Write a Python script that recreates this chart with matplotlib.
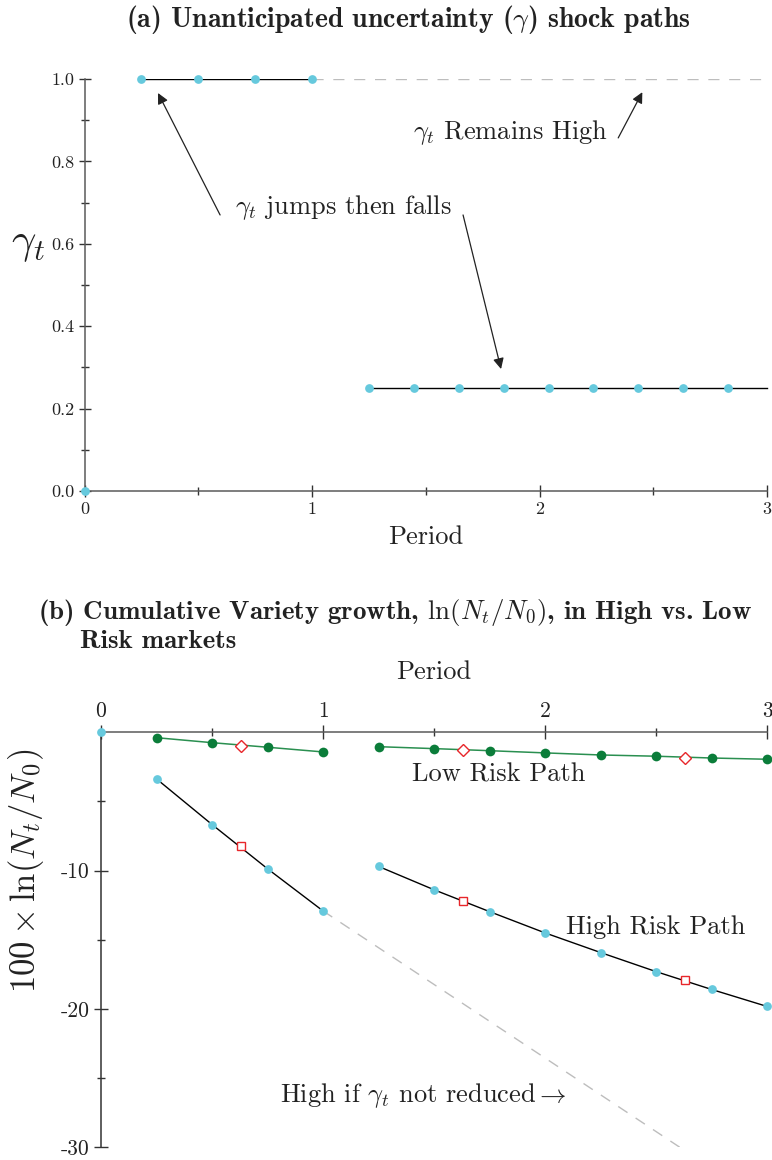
import matplotlib
matplotlib.use("Agg")
import matplotlib.pyplot as plt
from matplotlib.ticker import FixedLocator

plt.rcParams['font.family'] = ['cmr10', 'DejaVu Serif']
plt.rcParams['mathtext.fontset'] = 'cm'
plt.rcParams['axes.unicode_minus'] = False
plt.rcParams['axes.formatter.use_mathtext'] = False

# ---------------- data: panel (a) ----------------
gamma_x_high = [0.25, 0.5, 0.75, 1.0]
gamma_y_high = [1.0, 1.0, 1.0, 1.0]
gamma_x_low = [1.25, 1.447, 1.645, 1.842, 2.04, 2.237, 2.434, 2.632, 2.83]
gamma_y_low = [0.25] * 9
gamma_low_line_x = [1.25, 3.0]
gamma_low_line_y = [0.25, 0.25]
gamma_remain_x = [1.0, 3.0]
gamma_remain_y = [1.0, 1.0]
origin_x = [0.0]
origin_y = [0.0]

# ---------------- data: panel (b) ----------------
low1_x = [0.25, 0.5, 0.75, 1.0]
low1_y = [-0.39, -0.75, -1.08, -1.42]
low2_x = [1.25, 1.5, 1.75, 2.0, 2.25, 2.5, 2.75, 3.0]
low2_y = [-1.04, -1.18, -1.33, -1.49, -1.64, -1.73, -1.86, -1.95]
low_mid_x = [0.63, 1.63, 2.63]
low_mid_y = [-0.97, -1.28, -1.83]

high1_x = [0.25, 0.5, 0.75, 1.0]
high1_y = [-3.37, -6.67, -9.87, -12.92]
high2_x = [1.25, 1.5, 1.75, 2.0, 2.25, 2.5, 2.75, 3.0]
high2_y = [-9.70, -11.39, -12.97, -14.51, -15.93, -17.31, -18.60, -19.83]
high_mid_x = [0.63, 1.63, 2.63]
high_mid_y = [-8.26, -12.2, -17.9]

noreduce_x = [1.0, 3.0]
noreduce_y = [-12.92, -34.2]

CYAN = '#66c9dd'
GREEN = '#0b7d3a'
GREENLINE = '#2a8f50'
RED = '#e8262a'
GRAY = '#bdbdbd'
SPINE = '#5a5a5a'
TXT = '#222222'

fig = plt.figure(figsize=(7.72, 11.6), dpi=100)

# ================= panel (a) =================
ax1 = fig.add_axes([84.5/772, 1-491/1160, (767-84.5)/772, (491-79)/1160])
ax1.set_xlim(0, 3)
ax1.set_ylim(0, 1)
for s in ['top', 'right']:
    ax1.spines[s].set_visible(False)
for s in ['left', 'bottom']:
    ax1.spines[s].set_color(SPINE)
    ax1.spines[s].set_linewidth(1.1)

ax1.plot(gamma_remain_x, gamma_remain_y, color=GRAY, lw=1.0, dashes=(8, 7), zorder=1)
ax1.plot(gamma_x_high, gamma_y_high, color='black', lw=1.0, zorder=2)
ax1.plot(gamma_low_line_x, gamma_low_line_y, color='black', lw=1.0, zorder=2, clip_on=False)
ax1.plot(gamma_x_high, gamma_y_high, 'o', color=CYAN, ms=6.3, mec='none', zorder=3, clip_on=False)
ax1.plot(gamma_x_low, gamma_y_low, 'o', color=CYAN, ms=6.3, mec='none', zorder=3, clip_on=False)
ax1.plot(origin_x, origin_y, 'o', color=CYAN, ms=6.3, mec='none', zorder=4, clip_on=False)

ax1.xaxis.set_major_locator(FixedLocator([0, 1, 2, 3]))
ax1.xaxis.set_minor_locator(FixedLocator([0.5, 1.5, 2.5]))
ax1.yaxis.set_major_locator(FixedLocator([0, 0.2, 0.4, 0.6, 0.8, 1.0]))
ax1.yaxis.set_minor_locator(FixedLocator([0.1, 0.3, 0.5, 0.7, 0.9]))
ax1.set_yticklabels(['0.0', '0.2', '0.4', '0.6', '0.8', '1.0'])
ax1.tick_params(which='major', direction='inout', length=9, width=1.0, color='#333333',
                labelsize=13, pad=3, labelcolor=TXT)
ax1.tick_params(which='minor', direction='inout', length=6, width=1.0, color='#333333')

ax1.set_xlabel('Period', fontsize=19, color=TXT, labelpad=6)
ax1.set_ylabel(r'$\gamma_t$', fontsize=31, rotation=0, color=TXT)
ax1.yaxis.set_label_coords(-0.082, 0.55)

ax1.set_title(r'(a) Unanticipated uncertainty ($\mathbf{\gamma}$) shock paths',
              fontsize=20, family=['cmb10', 'DejaVu Serif'], color=TXT,
              x=0.475, y=1.105)

arrowkw = dict(arrowstyle='-|>', lw=0.9, color=TXT, mutation_scale=16,
               shrinkA=0, shrinkB=0)
ax1.annotate('', xy=(0.323, 0.966), xytext=(0.596, 0.670), arrowprops=arrowkw)
ax1.annotate('', xy=(1.831, 0.296), xytext=(1.664, 0.670), arrowprops=arrowkw)
ax1.annotate('', xy=(2.452, 0.968), xytext=(2.346, 0.857), arrowprops=arrowkw)
ax1.text(1.137, 0.687, r'$\gamma_t$ jumps then falls', fontsize=19, ha='center',
         va='center', color=TXT)
ax1.text(1.871, 0.871, r'$\gamma_t$ Remains High', fontsize=19, ha='center',
         va='center', color=TXT)

# ================= panel (b) =================
ax2 = fig.add_axes([101/772, 1-1147/1160, (767-101)/772, (1147-732.3)/1160])
ax2.set_xlim(0, 3)
ax2.set_ylim(-30, 0)
for s in ['bottom', 'right']:
    ax2.spines[s].set_visible(False)
for s in ['left', 'top']:
    ax2.spines[s].set_color(SPINE)
    ax2.spines[s].set_linewidth(1.1)
ax2.spines['left'].set_color('#333333')
ax2.xaxis.tick_top()
ax2.xaxis.set_label_position('top')

ax2.plot(noreduce_x, noreduce_y, color=GRAY, lw=1.0, dashes=(8, 7), zorder=1)
ax2.plot(low1_x, low1_y, color=GREENLINE, lw=1.1, zorder=2)
ax2.plot(low2_x, low2_y, color=GREENLINE, lw=1.1, zorder=2, clip_on=False)
ax2.plot(low1_x, low1_y, 'o', color=GREEN, ms=7, mec='none', zorder=3)
ax2.plot(low2_x, low2_y, 'o', color=GREEN, ms=7, mec='none', zorder=3, clip_on=False)
ax2.plot(low_mid_x, low_mid_y, 'D', mfc='white', mec=RED, mew=1.0, ms=6, zorder=4)

ax2.plot(high1_x, high1_y, color='black', lw=1.0, zorder=2)
ax2.plot(high2_x, high2_y, color='black', lw=1.0, zorder=2, clip_on=False)
ax2.plot(high1_x, high1_y, 'o', color=CYAN, ms=6.3, mec='none', zorder=3)
ax2.plot(high2_x, high2_y, 'o', color=CYAN, ms=6.3, mec='none', zorder=3, clip_on=False)
ax2.plot(high_mid_x, high_mid_y, 's', mfc='white', mec=RED, mew=1.0, ms=5.8, zorder=4)
ax2.plot(origin_x, origin_y, 'o', color=CYAN, ms=6.3, mec='none', zorder=5, clip_on=False)

ax2.xaxis.set_major_locator(FixedLocator([0, 1, 2, 3]))
ax2.xaxis.set_minor_locator(FixedLocator([0.5, 1.5, 2.5]))
ax2.yaxis.set_major_locator(FixedLocator([-30, -20, -10]))
ax2.yaxis.set_minor_locator(FixedLocator([-25, -15, -5]))
ax2.set_yticklabels(['-30', '-20', '-10'])
ax2.tick_params(which='major', direction='inout', length=10, width=1.0, color='#333333',
                labelsize=15.5, pad=3, labelcolor=TXT)
ax2.tick_params(which='minor', direction='inout', length=6, width=1.0, color='#333333')

ax2.set_xlabel('Period', fontsize=19, color=TXT, labelpad=16)
ax2.set_ylabel(r'$100 \times \ln(N_t/N_0)$', fontsize=25, color=TXT)
ax2.yaxis.set_label_coords(-0.082, 0.665)

ax2.text(1.79, -3.08, 'Low Risk Path', fontsize=19, ha='center', va='center', color=TXT)
ax2.text(2.50, -14.06, 'High Risk Path', fontsize=19, ha='center', va='center', color=TXT)
ax2.text(1.453, -26.3, r'High if $\gamma_t$ not reduced$\rightarrow$', fontsize=19,
         ha='center', va='center', color=TXT)

fig.text(38/772, 1-612/1160,
         r'(b) Cumulative Variety growth, $\ln(N_t/N_0)$, in High vs. Low',
         fontsize=19.4, family=['cmb10', 'DejaVu Serif'], ha='left', va='center', color=TXT)
fig.text(80/772, 1-641/1160, 'Risk markets', fontsize=19.4,
         family=['cmb10', 'DejaVu Serif'], ha='left', va='center', color=TXT)

fig.savefig('out.png', dpi=100)
